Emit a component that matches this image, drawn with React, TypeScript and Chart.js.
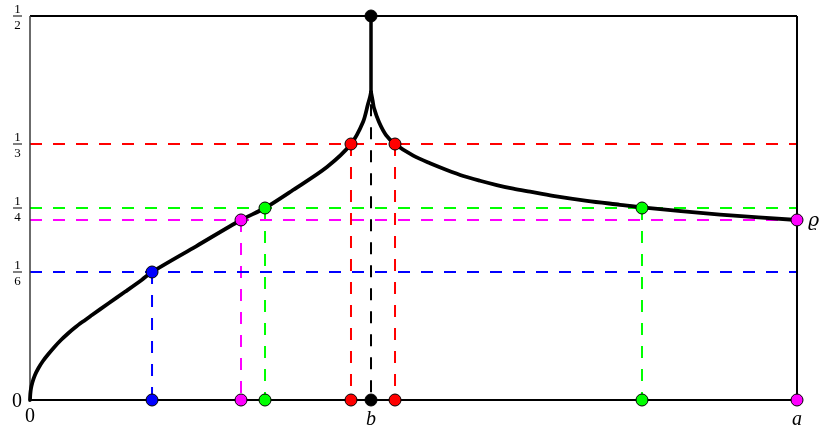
import React, { useEffect, useRef } from "react";
import { Chart, registerables } from "chart.js";

Chart.register(...registerables);

// Horizontal axis: 0 … a (a = 1), b is the cusp abscissa
const B = 0.4446;
const RHO = 0.2344;

// Left branch of the curve (from 0 up to the cusp)
const leftX = [0, 0.0004, 0.0013, 0.0033, 0.0065, 0.0111, 0.0169, 0.0235, 0.0313, 0.0404, 0.0495, 0.0587, 0.0691, 0.0804, 0.1021, 0.1239, 0.1456, 0.1591, 0.2171, 0.2751, 0.3064, 0.3429, 0.3872, 0.4185, 0.4342, 0.4407, 0.4433, 0.4446];
const leftY = [0, 0.0078, 0.015, 0.0234, 0.0326, 0.0417, 0.0508, 0.0592, 0.0684, 0.0781, 0.0866, 0.0944, 0.1022, 0.1103, 0.1257, 0.1409, 0.1563, 0.1667, 0.2005, 0.2344, 0.25, 0.2734, 0.3034, 0.3333, 0.362, 0.3854, 0.3945, 0.401];

// Right branch of the curve (from the cusp to a)
const rightX = [0.4446, 0.4466, 0.4485, 0.455, 0.4642, 0.4759, 0.4997, 0.5215, 0.5433, 0.5649, 0.5867, 0.6085, 0.6301, 0.6519, 0.6819, 0.7262, 0.7692, 0.7979, 0.8996, 1];
const rightY = [0.401, 0.3906, 0.3802, 0.362, 0.345, 0.3333, 0.3181, 0.3082, 0.2995, 0.2917, 0.2855, 0.2799, 0.2751, 0.2712, 0.2659, 0.2594, 0.2542, 0.2507, 0.2415, 0.2344];

// Vertical stem at b
const stemX = [B, B];
const stemY = [0.401, 0.5];

// Levels (blue 1/6, magenta ϱ, green 1/4, red 1/3) and crossings
const levelColors = ["#0000ff", "#ff00ff", "#00ff00", "#ff0000"];
const levelY = [1 / 6, RHO, 1 / 4, 1 / 3];
const crossX = [[0.1591], [0.2751, 1], [0.3064, 0.7979], [0.4185, 0.4759]];

// Black dashed line under the cusp
const bDashY = [0.385, 0];

// Tick labels
const yTickValues = [0.5, 1 / 3, 1 / 4, 1 / 6];
const yTickNum = ["1", "1", "1", "1"];
const yTickDen = ["2", "3", "4", "6"];
const xTickValues = [0, B, 1];
const xTickLabels = ["0", "b", "a"];

const pts = (xs: number[], ys: number[]) => xs.map((x, i) => ({ x, y: ys[i] }));

const DASH = [12, 11];
const SERIF = '"Liberation Serif", "DejaVu Serif", serif';

const labelsPlugin = {
  id: "labels",
  afterDraw(chart: any) {
    const ctx = chart.ctx;
    const xs = chart.scales.x;
    const ys = chart.scales.y;
    ctx.save();
    ctx.fillStyle = "#000";
    ctx.textAlign = "center";
    yTickValues.forEach((v, i) => {
      const py = Math.round(ys.getPixelForValue(v));
      ctx.font = "13px " + SERIF;
      ctx.textBaseline = "alphabetic";
      ctx.fillText(yTickNum[i], 17.5, py - 3);
      ctx.fillText(yTickDen[i], 17.5, py + 13);
      ctx.fillRect(13, py - 0.5, 9, 1);
    });
    ctx.font = "20px " + SERIF;
    ctx.textBaseline = "alphabetic";
    ctx.fillText("0", 17, ys.getPixelForValue(0) + 7);
    xTickValues.forEach((v, i) => {
      const px = xs.getPixelForValue(v);
      if (i === 0) {
        ctx.font = "20px " + SERIF;
        ctx.fillText(xTickLabels[i], px, 422);
      } else {
        ctx.font = "italic 20px " + SERIF;
        ctx.fillText(xTickLabels[i], px, 425);
      }
    });
    ctx.font = 'italic 19px "DejaVu Serif", "Liberation Serif", serif';
    ctx.textAlign = "left";
    ctx.fillText("ϱ", 808, ys.getPixelForValue(RHO) + 6);
    ctx.restore();
  },
};

export default function App() {
  const ref = useRef<HTMLCanvasElement>(null);
  useEffect(() => {
    if (!ref.current) return;
    const datasets: any[] = [];

    levelY.forEach((ly, i) => {
      datasets.push({
        data: [{ x: 0, y: ly }, { x: 1, y: ly }],
        showLine: true,
        borderColor: levelColors[i],
        borderWidth: 2,
        borderDash: DASH,
        pointRadius: 0,
        order: 5,
        clip: false,
      });
      crossX[i].forEach((cx) => {
        if (cx >= 1) return;
        datasets.push({
          data: [{ x: cx, y: ly }, { x: cx, y: 0 }],
          showLine: true,
          borderColor: levelColors[i],
          borderWidth: 2,
          borderDash: DASH,
          pointRadius: 0,
          order: 5,
          clip: false,
        });
      });
    });
    datasets.push({
      data: [{ x: B, y: bDashY[0] }, { x: B, y: bDashY[1] }],
      showLine: true,
      borderColor: "#000",
      borderWidth: 2,
      borderDash: DASH,
      pointRadius: 0,
      order: 5,
      clip: false,
    });

    const frame = [
      { d: [{ x: 0, y: 0 }, { x: 0, y: 0.5 }], c: "#3a3a3a", w: 1.5 },
      { d: [{ x: 0, y: 0.5 }, { x: 1, y: 0.5 }], c: "#000", w: 2 },
      { d: [{ x: 1, y: 0.5 }, { x: 1, y: 0 }], c: "#000", w: 2 },
      { d: [{ x: 0, y: 0 }, { x: 1, y: 0 }], c: "#000", w: 2 },
    ];
    frame.forEach((f) =>
      datasets.push({
        data: f.d,
        showLine: true,
        borderColor: f.c,
        borderWidth: f.w,
        pointRadius: 0,
        order: 4,
        clip: false,
      })
    );

    [pts(leftX, leftY), pts(rightX, rightY)].forEach((d) =>
      datasets.push({
        data: d,
        showLine: true,
        borderColor: "#000",
        borderWidth: 3.8,
        tension: 0.3,
        borderCapStyle: "round",
        borderJoinStyle: "round",
        pointRadius: 0,
        order: 3,
        clip: false,
      })
    );
    datasets.push({
      data: pts(stemX, stemY),
      showLine: true,
      borderColor: "#000",
      borderWidth: 3.5,
      borderCapStyle: "round",
      pointRadius: 0,
      order: 3,
      clip: false,
    });

    levelY.forEach((ly, i) => {
      const d: any[] = [];
      crossX[i].forEach((cx) => {
        d.push({ x: cx, y: ly });
        d.push({ x: cx, y: 0 });
      });
      datasets.push({
        data: d,
        showLine: false,
        pointRadius: 6,
        pointBackgroundColor: levelColors[i],
        pointBorderColor: "#000",
        pointBorderWidth: 1,
        order: 1,
        clip: false,
      });
    });
    datasets.push({
      data: [{ x: B, y: 0.5 }, { x: B, y: 0 }],
      showLine: false,
      pointRadius: 6,
      pointBackgroundColor: "#000",
      pointBorderColor: "#000",
      pointBorderWidth: 1,
      order: 0,
      clip: false,
    });

    const chart = new Chart(ref.current, {
      type: "scatter",
      data: { datasets },
      options: {
        responsive: false,
        animation: false,
        devicePixelRatio: 1,
        layout: { padding: { left: 30, right: 33, top: 16, bottom: 29 } },
        plugins: { legend: { display: false }, tooltip: { enabled: false } },
        scales: {
          x: { type: "linear", min: 0, max: 1, display: false },
          y: { type: "linear", min: 0, max: 0.5, display: false },
        },
      } as any,
      plugins: [labelsPlugin],
    });
    return () => chart.destroy();
  }, []);
  return (
    <div style={{ position: "absolute", left: 0, top: 0, width: 830, height: 429, background: "#fff" }}>
      <canvas ref={ref} width={830} height={429} style={{ width: 830, height: 429 }} />
    </div>
  );
}
